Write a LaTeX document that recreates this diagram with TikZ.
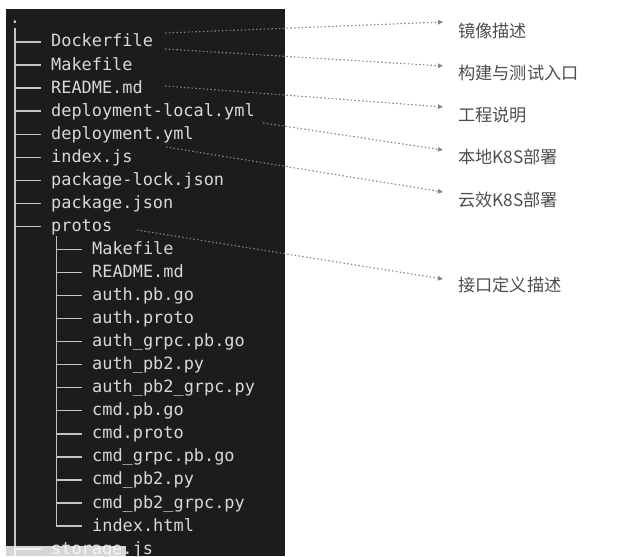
\documentclass[tikz,border=0pt]{standalone}
\usepackage{fontspec}
\setmonofont{DejaVu Sans Mono}
\newfontfamily\cjk{Noto Sans CJK SC}
\usetikzlibrary{arrows.meta}
\definecolor{termbg}{HTML}{1C1C1C}
\definecolor{termfg}{HTML}{D8D8D8}
\definecolor{treeln}{HTML}{C4C4C4}
\definecolor{arrowc}{HTML}{858585}
\definecolor{labelc}{HTML}{4E4E4E}
\tikzset{
  file/.style={anchor=base west, inner sep=0pt, text=termfg, font=\ttfamily\fontsize{16.9}{20}\selectfont},
  tree/.style={draw=treeln, line width=1.3pt},
  note/.style={anchor=west, inner sep=0pt, text=labelc, font=\cjk\fontsize{17.2}{20}\selectfont},
  callout/.style={draw=arrowc, line width=1.1pt, dash pattern=on 1.5pt off 2.3pt,
    -{Triangle[length=5pt,width=4.5pt]}}
}
\begin{document}
\begin{tikzpicture}[x=1pt,y=-1pt]
\useasboundingbox (0,0) rectangle (620,556);
\fill[termbg] (6,9) rectangle (285,556);
% root dot
\node[file, anchor=base] (root) at (15,24) {.};
% trunk
\draw[tree] (15,28) -- (15,556);
\draw[tree] (56.5,236) -- (56.5,526.5);
% top-level entries
\foreach \t [count=\i from 0] in {Dockerfile,Makefile,README.md,deployment-local.yml,deployment.yml,index.js,package-lock.json,package.json,protos}{
  \pgfmathsetmacro{\yy}{42+23.05*\i}
  \draw[tree] (15,\yy) -- (41,\yy);
  \node[file] (f\i) at (51,\yy+5) {\t};
}
% protos entries
\foreach \t [count=\i from 9] in {Makefile,README.md,auth.pb.go,auth.proto,auth\_grpc.pb.go,auth\_pb2.py,auth\_pb2\_grpc.py,cmd.pb.go,cmd.proto,cmd\_grpc.pb.go,cmd\_pb2.py,cmd\_pb2\_grpc.py,index.html}{
  \pgfmathsetmacro{\yy}{42+23.05*\i}
  \draw[tree] (56.5,\yy) -- (82,\yy);
  \node[file] (g\i) at (92,\yy+5) {\t};
}
% last entry
\draw[tree] (15,549.1) -- (41,549.1);
\node[file] (f22) at (51,554.1) {storage.js};
% bottom-left light band
\fill[white, opacity=0.82] (0,546) rectangle (126,556);
% labels
\node[note] (l1) at (458,31) {镜像描述};
\node[note] (l2) at (458,73) {构建与测试入口};
\node[note] (l3) at (458,115) {工程说明};
\node[note] (l4) at (458,157) {本地K8S部署};
\node[note] (l5) at (458,200) {云效K8S部署};
\node[note] (l6) at (458,285) {接口定义描述};
% callout start points
\coordinate (s1) at (165,33);
\coordinate (s2) at (165,49);
\coordinate (s3) at (165,86);
\coordinate (s4) at (263,123);
\coordinate (s5) at (166,147);
\coordinate (s6) at (137,230);
\draw[callout] (s1) -- ([xshift=-15pt,yshift=9pt]l1.west);
\draw[callout] (s2) -- ([xshift=-15pt,yshift=7pt]l2.west);
\draw[callout] (s3) -- ([xshift=-15pt,yshift=8pt]l3.west);
\draw[callout] (s4) -- ([xshift=-15pt,yshift=7pt]l4.west);
\draw[callout] (s5) -- ([xshift=-15pt,yshift=8pt]l5.west);
\draw[callout] (s6) -- ([xshift=-15pt,yshift=6pt]l6.west);
\end{tikzpicture}
\end{document}
